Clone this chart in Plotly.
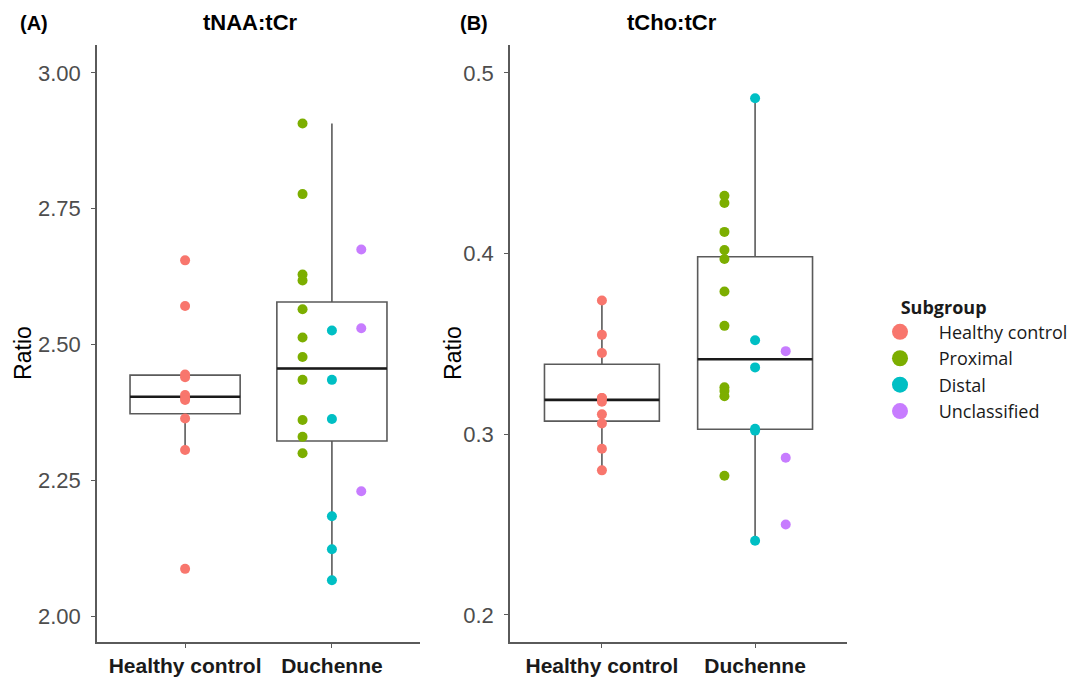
import numpy as np
import plotly.graph_objects as go

# ---------------- data ----------------
groups = ["Healthy control", "Duchenne"]
subgroups = ["Healthy control", "Proximal", "Distal", "Unclassified"]
sub_colors = ["#F8766D", "#7CAE00", "#00BFC4", "#C77CFF"]

panel_titles = ["tNAA:tCr", "tCho:tCr"]
panel_tags = ["(A)", "(B)"]

# Panel A: tNAA:tCr
naa_healthy = [2.655, 2.571, 2.445, 2.440, 2.407, 2.401, 2.398, 2.364, 2.306, 2.087]
naa_proximal = [2.907, 2.777, 2.629, 2.618, 2.565, 2.513, 2.477, 2.435, 2.361, 2.330, 2.300]
naa_distal = [2.526, 2.435, 2.363, 2.184, 2.123, 2.066]
naa_unclassified = [2.675, 2.530, 2.230]

# Panel B: tCho:tCr
cho_healthy = [0.374, 0.355, 0.345, 0.320, 0.320, 0.318, 0.311, 0.306, 0.292, 0.280]
cho_proximal = [0.432, 0.428, 0.412, 0.402, 0.397, 0.379, 0.360, 0.326, 0.324, 0.321, 0.277]
cho_distal = [0.486, 0.352, 0.337, 0.303, 0.302, 0.241]
cho_unclassified = [0.346, 0.287, 0.250]

y_ticks_a = [2.00, 2.25, 2.50, 2.75, 3.00]
y_ticks_b = [0.2, 0.3, 0.4, 0.5]

# ---------------- layout helpers ----------------
W, H = 1076, 677
sub_offset = {"Healthy control": 0.0, "Proximal": -0.2, "Distal": 0.0, "Unclassified": 0.2}
BOX_W = 0.75


def box_stats(vals):
    v = np.asarray(vals, dtype=float)
    q1, med, q3 = np.percentile(v, [25, 50, 75])
    iqr = q3 - q1
    lo = v[v >= q1 - 1.5 * iqr].min()
    hi = v[v <= q3 + 1.5 * iqr].max()
    return q1, med, q3, lo, hi


panels = [
    dict(sub={"Healthy control": naa_healthy, "Proximal": naa_proximal,
              "Distal": naa_distal, "Unclassified": naa_unclassified},
         xa="x", ya="y"),
    dict(sub={"Healthy control": cho_healthy, "Proximal": cho_proximal,
              "Distal": cho_distal, "Unclassified": cho_unclassified},
         xa="x2", ya="y2"),
]

fig = go.Figure()

for p in panels:
    group_vals = [p["sub"]["Healthy control"],
                  p["sub"]["Proximal"] + p["sub"]["Distal"] + p["sub"]["Unclassified"]]
    for gi, vals in enumerate(group_vals):
        xpos = gi + 1
        q1, med, q3, lo, hi = box_stats(vals)
        fig.add_trace(go.Box(
            x=[xpos], q1=[q1], median=[med], q3=[q3], lowerfence=[lo], upperfence=[hi],
            width=BOX_W, fillcolor="white", line=dict(color="#5a5a5a", width=1.6),
            whiskerwidth=0, boxpoints=False, showlegend=False, hoverinfo="skip",
            xaxis=p["xa"], yaxis=p["ya"]))
        fig.add_trace(go.Scatter(
            x=[xpos - BOX_W / 2, xpos + BOX_W / 2], y=[med, med], mode="lines",
            line=dict(color="#1a1a1a", width=2.6), showlegend=False, hoverinfo="skip",
            xaxis=p["xa"], yaxis=p["ya"]))
    for si, s in enumerate(subgroups):
        vals = p["sub"][s]
        gi = 0 if s == "Healthy control" else 1
        fig.add_trace(go.Scatter(
            x=[gi + 1 + sub_offset[s]] * len(vals), y=vals, mode="markers",
            marker=dict(color=sub_colors[si], size=10), legendgroup=s,
            showlegend=False, name=s, xaxis=p["xa"], yaxis=p["ya"]))

# legend entries
for si, s in enumerate(subgroups):
    fig.add_trace(go.Scatter(
        x=[None], y=[None], mode="markers", name="\u00a0\u00a0\u00a0\u00a0" + s,
        marker=dict(color=sub_colors[si], size=16), legendgroup=s,
        showlegend=True, xaxis="x", yaxis="y"))

axis_line = "#5a5a5a"
tick_font_y = dict(family="Liberation Sans, Arial, sans-serif", size=22, color="#4d4d4d")
tick_font_x = dict(family="Liberation Sans, Arial, sans-serif", size=21, color="#1a1a1a",
                   weight="bold")

y0, y1 = 1 - 646 / H, 1 - 45 / H
xdomA = [97 / W, 420 / W]
xdomB = [510 / W, 847 / W]

common_x = dict(range=[0.4, 2.6], tickvals=[1, 2], ticktext=groups, showline=True,
                linecolor=axis_line, linewidth=1.6, ticks="outside", ticklen=4,
                tickcolor=axis_line, tickwidth=1.2, showgrid=False, zeroline=False,
                tickfont=tick_font_x, fixedrange=True)
common_y = dict(showline=True, linecolor=axis_line, linewidth=1.6, ticks="outside",
                ticklen=4, tickcolor=axis_line, tickwidth=1.2, showgrid=False,
                zeroline=False, tickfont=tick_font_y, domain=[y0, y1],
                ticklabelstandoff=6)

fig.update_layout(
    width=W, height=H,
    margin=dict(l=0, r=0, t=0, b=0),
    paper_bgcolor="white", plot_bgcolor="white",
    xaxis=dict(common_x, domain=xdomA, anchor="y"),
    yaxis=dict(common_y, range=[1.952, 3.052], tickvals=y_ticks_a,
               tickformat=".2f", anchor="x"),
    xaxis2=dict(common_x, domain=xdomB, anchor="y2"),
    yaxis2=dict(common_y, range=[0.1849, 0.5156], tickvals=y_ticks_b,
                tickformat=".1f", anchor="x2"),
    legend=dict(
        x=880 / W, y=1 - 292 / H, xanchor="left", yanchor="top",
        title=dict(text="\u00a0\u00a0\u00a0\u00a0Subgroup",
                   font=dict(family="Open Sans, sans-serif", size=18, color="#1a1a1a",
                             weight="bold")),
        font=dict(family="Open Sans, sans-serif", size=18, color="#1a1a1a"),
        itemsizing="trace", tracegroupgap=0, bgcolor="rgba(0,0,0,0)"),
    showlegend=True,
)

ann_font = dict(family="Liberation Sans, Arial, sans-serif", color="#000000")
annotations = [
    dict(text="<b>" + panel_tags[0] + "</b>", x=18 / W, y=1 - 23 / H, xanchor="left",
         yanchor="middle", font=dict(ann_font, size=20)),
    dict(text="<b>" + panel_tags[1] + "</b>", x=458 / W, y=1 - 23 / H, xanchor="left",
         yanchor="middle", font=dict(ann_font, size=20)),
    dict(text="<b>" + panel_titles[0] + "</b>", x=250 / W, y=1 - 23 / H, xanchor="center",
         yanchor="middle", font=dict(ann_font, size=22)),
    dict(text="<b>" + panel_titles[1] + "</b>", x=672 / W, y=1 - 23 / H, xanchor="center",
         yanchor="middle", font=dict(ann_font, size=22)),
    dict(text="Ratio", x=23 / W, y=1 - 355 / H, textangle=-90, xanchor="center",
         yanchor="middle", font=dict(ann_font, size=23)),
    dict(text="Ratio", x=453 / W, y=1 - 355 / H, textangle=-90, xanchor="center",
         yanchor="middle", font=dict(ann_font, size=23)),
]
for a in annotations:
    a.update(xref="paper", yref="paper", showarrow=False)
fig.update_layout(annotations=annotations)

fig.write_html(
    "out.html",
    config={"displayModeBar": False},
    post_script="document.body.style.margin='0';document.body.style.overflow='hidden';",
)
